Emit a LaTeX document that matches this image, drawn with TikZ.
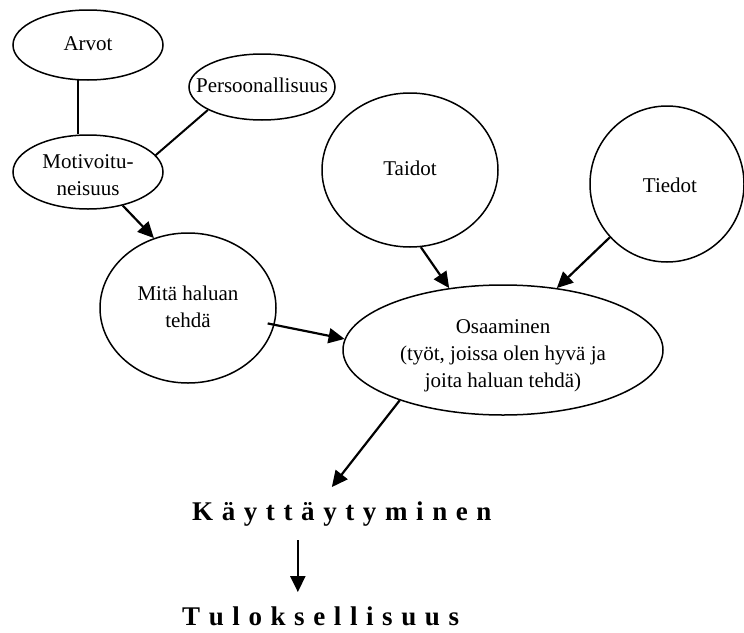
\documentclass[tikz,border=0pt]{standalone}
\usepackage{fontspec}
\setmainfont{Liberation Serif}
\usetikzlibrary{shapes.geometric,arrows.meta}

% centred text of zero size, so the ellipse size comes from the minimum sizes only;
% the optional argument moves the text block up or down inside its ellipse
\newcommand\stack[2][-5.3pt]{\makebox[0pt][c]{\raisebox{#1}[0pt][0pt]{\begin{tabular}{@{}c@{}}#2\end{tabular}}}}
% letter-spaced word: \spreadword Word\relax
\def\spreadword#1#2\relax{#1\spreadrest#2\relax}
\def\spreadrest#1{\ifx#1\relax\else\kern8.6pt#1\expandafter\spreadrest\fi}

\tikzset{
  bubble/.style={draw, ellipse, line width=1.5pt, inner sep=0pt,
    font=\fontsize{21}{27}\selectfont},
  link/.style={line width=2pt},
  arrowlink/.style={line width=2.2pt, -{Triangle[length=16pt,width=15pt]}},
  result/.style={font=\fontsize{27}{32}\selectfont\bfseries,
    inner xsep=0pt, inner ysep=14pt, anchor=base west},
}

\begin{document}
\begin{tikzpicture}[x=1pt,y=1pt]
\useasboundingbox (0,0) rectangle (744,-632);

\node[bubble, minimum width=150pt, minimum height=70pt] (arvot) at (88,-45) {\stack{Arvot}};
\node[bubble, minimum width=146pt, minimum height=66pt] (pers) at (262,-87) {\stack{Persoonallisuus}};
\node[bubble, minimum width=150pt, minimum height=74pt] (motiv) at (88,-172) {\stack[-9.5pt]{Motivoitu-\\neisuus}};
\node[bubble, minimum width=176pt, minimum height=154pt] (taidot) at (410,-170) {\stack{Taidot}};
\node[bubble, minimum width=154pt, minimum height=156pt] (tiedot) at (667,-184) {\stack[-8pt]{\hspace{6pt}Tiedot}};
\node[bubble, minimum width=176pt, minimum height=150pt] (mita) at (188,-308) {\stack{Mitä haluan\\tehdä}};
\node[bubble, minimum width=320pt, minimum height=130pt] (osaam) at (503,-350)
  {\stack[-10.3pt]{Osaaminen\\(työt, joissa olen hyvä ja\\joita haluan tehdä)}};

\node[result] (kaytt) at (192,-520) {\spreadword Käyttäytyminen\relax};
\node[result] (tulos) at (182,-625) {\spreadword Tuloksellisuus\relax};

\draw[link] (arvot.-106) -- (arvot.-106 |- motiv.north);
\draw[link] (pers.203) -- (motiv.14);
\draw[arrowlink] (motiv.-44) -- (mita.116);
\draw[arrowlink, shorten <=-7pt] (mita.-11) -- (osaam.176);
\draw[arrowlink] (taidot.-82) -- (osaam.131);
\draw[arrowlink] (tiedot.-137) -- (osaam.49);
\draw[arrowlink] (osaam.206) -- ([xshift=-10pt]kaytt.north);
\draw[arrowlink] ([xshift=-44pt]kaytt.south) -- ([xshift=-44pt]kaytt.south |- tulos.north);
\end{tikzpicture}
\end{document}
